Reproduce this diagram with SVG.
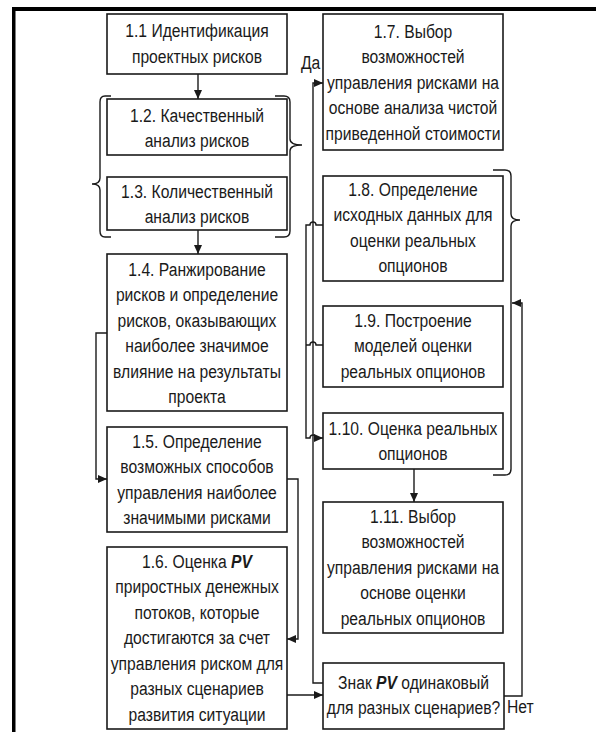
<svg xmlns="http://www.w3.org/2000/svg" width="596" height="732" viewBox="0 0 596 732">
<style>
.box{fill:#fff;stroke:#1a1a1a;stroke-width:1.6}
.ln{fill:none;stroke:#1a1a1a;stroke-width:1.4}
.br{fill:none;stroke:#1a1a1a;stroke-width:1.4}
text{font-family:"Liberation Sans",Arial,sans-serif;font-size:18px;fill:#1a1a1a;text-anchor:middle}
.lbl{text-anchor:start}
.b{font-weight:bold;font-style:italic}
</style>
<defs>
<marker id="ah" markerUnits="userSpaceOnUse" markerWidth="9" markerHeight="8" refX="9" refY="4" orient="auto">
<path d="M0,0 L9,4 L0,8 z" fill="#1a1a1a"/>
</marker>
</defs>
<rect x="0" y="0" width="596" height="732" fill="#fff"/>
<g id="frame">
<rect x="12" y="7" width="584" height="4" fill="#000"/>
<rect x="12" y="7" width="3.5" height="725" fill="#000"/>
</g>
<g id="connectors">
<path class="ln" d="M198,74 V99" marker-end="url(#ah)"/>
<path class="ln" d="M198,230 V254" marker-end="url(#ah)"/>
<path class="ln" d="M107,333 H96 V479 H107" marker-end="url(#ah)"/>
<path class="ln" d="M287,479 H298 V639 H287" marker-end="url(#ah)"/>
<path class="ln" d="M287,695 H323" marker-end="url(#ah)"/>
<path class="ln" d="M414,469 V502" marker-end="url(#ah)"/>
<path class="ln" d="M323,683 H313 V83 H323" marker-end="url(#ah)"/>
<path class="ln" d="M504,696 H522 V303 H512" marker-end="url(#ah)"/>
<path class="ln" d="M323,225 H316 A3,3 0 0 0 310,225 H306 V438 H310 A3,3 0 0 1 316,438 H323" marker-end="url(#ah)"/>
<path class="ln" d="M323,345 H316 A3,3 0 0 0 310,345 H306"/>
<g transform="translate(301,0) scale(0.87,1)"><text class="lbl" x="0" y="69">Да</text></g>
<g transform="translate(507,0) scale(0.87,1)"><text class="lbl" x="0" y="713">Нет</text></g>
</g>
<g id="braces">
<path class="br" d="M111,96 H105 Q100,96 100,102 V178 Q100,184 92,184 Q100,184 100,190 V231 Q100,237 105,237 H111"/>
<path class="br" d="M275,96 H284 Q290,96 290,102 V139 Q290,145 302,145 Q290,145 290,151 V231 Q290,237 284,237 H275"/>
<path class="br" d="M493,170 H505 Q511,170 511,176 V214 Q511,220 520,220 Q511,220 511,226 V469 Q511,475 505,475 H493"/>
</g>
<g id="n11">
<rect class="box" x="107" y="14" width="180" height="60"/>
<g transform="translate(197,0) scale(0.87,1)">
<text x="0" y="37">1.1 Идентификация</text>
<text x="0" y="63">проектных рисков</text>
</g>
</g>
<g id="n12">
<rect class="box" x="107" y="99" width="180" height="56"/>
<g transform="translate(197,0) scale(0.87,1)">
<text x="0" y="122">1.2. Качественный</text>
<text x="0" y="147">анализ рисков</text>
</g>
</g>
<g id="n13">
<rect class="box" x="107" y="177" width="180" height="53"/>
<g transform="translate(197,0) scale(0.87,1)">
<text x="0" y="198">1.3. Количественный</text>
<text x="0" y="223">анализ рисков</text>
</g>
</g>
<g id="n14">
<rect class="box" x="107" y="254" width="180" height="157"/>
<g transform="translate(197,0) scale(0.87,1)">
<text x="0" y="276">1.4. Ранжирование</text>
<text x="0" y="301.5">рисков и определение</text>
<text x="0" y="327">рисков, оказывающих</text>
<text x="0" y="352.5">наиболее значимое</text>
<text x="0" y="378">влияние на результаты</text>
<text x="0" y="403.5">проекта</text>
</g>
</g>
<g id="n15">
<rect class="box" x="107" y="427" width="180" height="105"/>
<g transform="translate(197,0) scale(0.87,1)">
<text x="0" y="448">1.5. Определение</text>
<text x="0" y="473.5">возможных способов</text>
<text x="0" y="499">управления наиболее</text>
<text x="0" y="524.5">значимыми рисками</text>
</g>
</g>
<g id="n16">
<rect class="box" x="107" y="547" width="180" height="182"/>
<g transform="translate(197,0) scale(0.87,1)">
<text x="0" y="568">1.6. Оценка <tspan class="b">PV</tspan></text>
<text x="0" y="593.5">приростных денежных</text>
<text x="0" y="619">потоков, которые</text>
<text x="0" y="644.5">достигаются за счет</text>
<text x="0" y="670">управления риском для</text>
<text x="0" y="695.5">разных сценариев</text>
<text x="0" y="721">развития ситуации</text>
</g>
</g>
<g id="n17">
<rect class="box" x="323" y="14" width="180" height="136"/>
<g transform="translate(413,0) scale(0.87,1)">
<text x="0" y="38">1.7. Выбор</text>
<text x="0" y="63.5">возможностей</text>
<text x="0" y="89">управления рисками на</text>
<text x="0" y="114.5">основе анализа чистой</text>
<text x="0" y="140">приведенной стоимости</text>
</g>
</g>
<g id="n18">
<rect class="box" x="323" y="176" width="180" height="105"/>
<g transform="translate(413,0) scale(0.87,1)">
<text x="0" y="196">1.8. Определение</text>
<text x="0" y="221.5">исходных данных для</text>
<text x="0" y="247">оценки реальных</text>
<text x="0" y="272.5">опционов</text>
</g>
</g>
<g id="n19">
<rect class="box" x="323" y="306" width="180" height="81"/>
<g transform="translate(413,0) scale(0.87,1)">
<text x="0" y="327">1.9. Построение</text>
<text x="0" y="352.5">моделей оценки</text>
<text x="0" y="378">реальных опционов</text>
</g>
</g>
<g id="n110">
<rect class="box" x="323" y="413" width="180" height="56"/>
<g transform="translate(413,0) scale(0.87,1)">
<text x="0" y="435">1.10. Оценка реальных</text>
<text x="0" y="460.5">опционов</text>
</g>
</g>
<g id="n111">
<rect class="box" x="323" y="502" width="180" height="131"/>
<g transform="translate(413,0) scale(0.87,1)">
<text x="0" y="523">1.11. Выбор</text>
<text x="0" y="548.5">возможностей</text>
<text x="0" y="574">управления рисками на</text>
<text x="0" y="599.5">основе оценки</text>
<text x="0" y="625">реальных опционов</text>
</g>
</g>
<g id="decision">
<rect class="box" x="323" y="663" width="181" height="66"/>
<g transform="translate(413.5,0) scale(0.87,1)">
<text x="0" y="689">Знак <tspan class="b">PV</tspan> одинаковый</text>
<text x="0" y="714.5">для разных сценариев?</text>
</g>
</g>
</svg>
